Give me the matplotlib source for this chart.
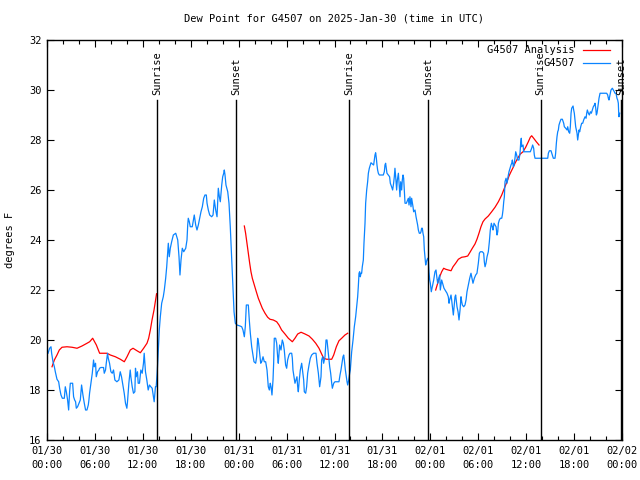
import numpy as np
import matplotlib
matplotlib.use("Agg")
import matplotlib.pyplot as plt
from matplotlib.ticker import MultipleLocator

# time axis: hours since 2025-01-30 00:00 UTC
obs_hours = [
    0.13, 0.33, 0.5, 0.58, 0.75, 0.92, 1.04, 1.25, 1.46, 1.58, 1.75, 1.92, 2.17, 2.29, 2.42,
    2.58, 2.71, 2.83, 2.92, 3.21, 3.33, 3.46, 3.58, 3.67, 3.83, 4.0, 4.17, 4.33, 4.5, 4.67,
    4.83, 5.0, 5.17, 5.25, 5.33, 5.5, 5.67, 5.83, 5.92, 6.08, 6.17, 6.33, 6.5, 6.58, 6.75,
    7.08, 7.17, 7.33, 7.42, 7.58, 7.67, 7.83, 8.0, 8.17, 8.33, 8.5, 8.75, 9.0, 9.17, 9.33,
    9.5, 9.67, 9.83, 10.0, 10.08, 10.25, 10.42, 10.5, 10.67, 10.83, 11.0, 11.08, 11.17, 11.33, 11.42,
    11.58, 11.75, 11.92, 12.08, 12.17, 12.33, 12.5, 12.67, 12.83, 13.0, 13.17, 13.33, 13.42, 13.58, 13.67,
    13.79, 13.88, 14.06, 14.19, 14.36, 14.56, 14.69, 14.86, 14.99, 15.11, 15.19, 15.31, 15.44, 15.61, 15.82,
    16.12, 16.37, 16.53, 16.65, 16.78, 16.94, 17.12, 17.37, 17.53, 17.62, 17.69, 17.82, 17.94, 18.19, 18.37,
    18.44, 18.62, 18.78, 18.95, 19.12, 19.28, 19.45, 19.62, 19.78, 19.95, 20.04, 20.2, 20.37, 20.62, 20.79,
    20.95, 21.12, 21.29, 21.45, 21.58, 21.7, 21.88, 22.0, 22.13, 22.2, 22.29, 22.41, 22.63, 22.79, 22.95,
    23.13, 23.29, 23.42, 23.58, 23.79, 24.17, 24.38, 24.54, 24.71, 24.83, 24.96, 25.21, 25.33, 25.46, 25.63,
    25.75, 25.92, 26.13, 26.25, 26.38, 26.5, 26.63, 26.76, 26.88, 27.05, 27.21, 27.38, 27.55, 27.71, 27.84,
    27.96, 28.05, 28.17, 28.3, 28.38, 28.46, 28.63, 28.76, 28.88, 28.96, 29.05, 29.13, 29.3, 29.46, 29.59,
    29.71, 29.88, 30.01, 30.13, 30.3, 30.43, 30.64, 30.72, 30.8, 30.93, 31.05, 31.18, 31.3, 31.39, 31.47,
    31.59, 31.72, 31.89, 32.01, 32.14, 32.22, 32.39, 32.51, 32.64, 32.81, 32.97, 33.14, 33.39, 33.68, 33.81,
    33.98, 34.14, 34.31, 34.39, 34.52, 34.64, 34.81, 34.94, 35.06, 35.15, 35.27, 35.4, 35.52, 35.65, 35.73,
    35.9, 36.06, 36.31, 36.56, 36.69, 36.81, 36.94, 37.06, 37.15, 37.23, 37.36, 37.48, 37.57, 37.65, 37.78,
    37.9, 37.98, 38.07, 38.15, 38.32, 38.48, 38.65, 38.78, 38.9, 38.98, 39.07, 39.15, 39.23, 39.32, 39.4,
    39.48, 39.61, 39.69, 39.82, 39.9, 40.03, 40.15, 40.24, 40.36, 40.49, 40.57, 40.74, 40.9, 40.99, 41.07,
    41.15, 41.24, 41.32, 41.4, 41.49, 41.61, 41.9, 42.11, 42.24, 42.32, 42.4, 42.49, 42.57, 42.74, 42.9,
    42.99, 43.15, 43.28, 43.4, 43.49, 43.57, 43.66, 43.78, 43.87, 44.0, 44.12, 44.2, 44.29, 44.41, 44.49,
    44.58, 44.66, 44.74, 44.83, 45.0, 45.16, 45.25, 45.33, 45.45, 45.58, 45.66, 45.83, 45.91, 46.08, 46.21,
    46.33, 46.41, 46.5, 46.62, 46.75, 46.83, 46.91, 47.0, 47.08, 47.17, 47.25, 47.33, 47.42, 47.5, 47.58,
    47.67, 47.75, 47.83, 47.92, 48.0, 48.12, 48.25, 48.42, 48.58, 48.71, 48.83, 48.92, 49.0, 49.17, 49.25,
    49.42, 49.59, 49.71, 49.84, 49.96, 50.09, 50.25, 50.34, 50.42, 50.59, 50.67, 50.76, 50.88, 51.01, 51.09,
    51.17, 51.26, 51.34, 51.47, 51.59, 51.72, 51.84, 51.93, 52.01, 52.18, 52.34, 52.47, 52.59, 52.76, 52.93,
    53.09, 53.18, 53.34, 53.51, 53.68, 53.84, 54.01, 54.14, 54.26, 54.51, 54.68, 54.76, 54.85, 54.97, 55.1,
    55.26, 55.39, 55.51, 55.64, 55.76, 55.85, 55.97, 56.1, 56.23, 56.35, 56.44, 56.52, 56.64, 56.77, 56.94,
    57.02, 57.1, 57.19, 57.27, 57.35, 57.48, 57.6, 57.73, 57.85, 57.98, 58.1, 58.19, 58.27, 58.4, 58.48,
    58.6, 58.69, 58.81, 58.94, 59.1, 59.23, 59.31, 59.39, 59.44, 59.61, 59.69, 59.85, 60.27, 60.52, 60.69,
    60.81, 60.94, 61.02, 61.11, 61.52, 61.94, 62.36, 62.7, 62.78, 62.91, 63.11, 63.28, 63.4, 63.61, 63.69,
    63.78, 63.86, 63.95, 64.03, 64.11, 64.24, 64.36, 64.53, 64.7, 64.78, 64.95, 65.12, 65.2, 65.32, 65.45,
    65.53, 65.62, 65.7, 65.87, 65.95, 66.03, 66.12, 66.2, 66.28, 66.37, 66.45, 66.53, 66.62, 66.7, 66.83,
    66.95, 67.08, 67.2, 67.29, 67.37, 67.5, 67.58, 67.66, 67.79, 67.91, 68.04, 68.16, 68.29, 68.41, 68.54,
    68.62, 68.71, 68.79, 68.87, 68.96, 69.04, 69.12, 69.25, 70.08, 70.21, 70.29, 70.37, 70.54, 70.62, 70.79,
    70.92, 71.04, 71.12, 71.25, 71.37, 71.46, 71.54, 71.58, 71.62, 71.71,
]
obs_dewpt = [
    19.47, 19.67, 19.73, 19.47, 19.13, 18.93, 18.73, 18.43, 18.33, 18.07, 17.8, 17.67, 17.67, 18.13, 17.93,
    17.6, 17.2, 17.93, 18.27, 18.27, 17.73, 17.6, 17.53, 17.27, 17.33, 17.47, 17.6, 18.2, 17.8, 17.47,
    17.2, 17.2, 17.4, 17.6, 17.87, 18.27, 18.67, 19.2, 18.93, 19.07, 18.53, 18.73, 18.8, 18.87, 18.9,
    18.9, 18.67, 18.8, 19.07, 19.47, 19.27, 19.07, 18.73, 18.67, 18.8, 18.4, 18.33, 18.4, 18.73, 18.53,
    18.2, 17.87, 17.47, 17.27, 17.53, 18.27, 18.8, 18.53, 18.13, 17.87, 17.93, 18.87, 18.53, 18.73, 18.27,
    18.27, 18.8, 18.67, 19.07, 19.47, 18.73, 18.4, 18.0, 18.2, 18.13, 18.07, 17.73, 17.53, 18.13, 18.13,
    18.67, 19.2, 20.4, 20.93, 21.47, 21.73, 22.0, 22.47, 22.93, 23.53, 23.87, 23.33, 23.67, 23.93, 24.2,
    24.27, 24.0, 23.33, 22.6, 23.2, 23.67, 23.53, 23.67, 24.0, 24.6, 24.87, 24.73, 24.53, 24.53, 24.87,
    25.0, 24.6, 24.4, 24.6, 24.87, 25.13, 25.33, 25.67, 25.8, 25.8, 25.47, 25.2, 25.0, 24.93, 25.0,
    25.6, 25.2, 24.93, 26.07, 25.73, 25.53, 26.2, 26.53, 26.67, 26.8, 26.6, 26.2, 25.93, 25.47, 24.53,
    23.2, 22.0, 21.13, 20.67, 20.6, 20.56, 20.53, 20.4, 20.13, 20.53, 21.4, 21.4, 20.8, 20.27, 19.73,
    19.47, 19.13, 19.07, 19.33, 20.07, 19.87, 19.47, 19.07, 19.13, 19.33, 19.13, 19.13, 18.8, 18.13, 18.0,
    18.27, 18.13, 17.8, 18.4, 19.07, 20.07, 20.07, 19.87, 19.33, 19.07, 19.47, 19.8, 19.6, 20.0, 19.87,
    19.6, 19.0, 18.87, 19.2, 19.4, 19.47, 19.47, 19.27, 18.8, 18.53, 18.27, 18.4, 18.53, 18.13, 17.93,
    18.4, 18.8, 19.07, 18.73, 18.4, 17.93, 17.87, 18.13, 18.67, 19.0, 19.27, 19.4, 19.47, 19.47, 19.07,
    18.67, 18.13, 18.53, 19.2, 19.33, 19.07, 19.33, 20.0, 20.0, 19.73, 19.33, 18.93, 18.67, 18.27, 18.07,
    18.27, 18.33, 18.33, 18.33, 18.6, 18.8, 19.07, 19.33, 19.4, 19.2, 18.8, 18.53, 18.33, 18.2, 18.4,
    18.67, 18.8, 19.2, 19.53, 20.0, 20.53, 20.93, 21.33, 21.73, 22.13, 22.67, 22.73, 22.53, 22.67, 22.67,
    22.93, 23.2, 23.87, 24.67, 25.47, 26.0, 26.33, 26.67, 26.87, 27.0, 27.09, 27.04, 27.0, 27.2, 27.4,
    27.49, 27.27, 27.0, 26.8, 26.67, 26.6, 26.6, 26.6, 26.73, 27.0, 27.07, 26.87, 26.67, 26.6, 26.53,
    26.27, 26.13, 26.0, 26.27, 26.53, 26.87, 26.53, 26.0, 26.4, 26.67, 26.13, 25.73, 26.33, 26.0, 26.4,
    26.6, 26.47, 26.0, 25.47, 25.47, 25.6, 25.67, 25.4, 25.73, 25.33, 25.67, 25.33, 25.13, 25.2, 24.93,
    24.73, 24.6, 24.4, 24.27, 24.27, 24.33, 24.47, 24.47, 24.27, 24.13, 23.6, 23.33, 23.0, 23.13, 23.2,
    23.27, 23.2, 22.73, 22.4, 22.27, 21.93, 22.13, 22.4, 22.73, 22.8, 22.47, 22.27, 22.4, 22.6, 22.0,
    22.4, 22.2, 22.07, 22.0, 21.93, 21.87, 21.73, 21.47, 21.6, 21.8, 21.6, 21.33, 21.0, 21.47, 21.73,
    21.8, 21.53, 21.33, 21.13, 20.8, 21.2, 21.73, 21.53, 21.4, 21.33, 21.4, 21.6, 21.93, 22.2, 22.47,
    22.67, 22.53, 22.27, 22.47, 22.6, 22.67, 23.07, 23.47, 23.53, 23.53, 23.47, 23.13, 22.93, 23.07, 23.33,
    23.53, 23.93, 24.4, 24.67, 24.53, 24.4, 24.67, 24.6, 24.53, 24.2, 24.33, 24.67, 24.8, 24.87, 24.87,
    25.0, 25.2, 25.53, 25.73, 26.33, 26.47, 26.27, 26.53, 26.73, 26.87, 27.0, 27.07, 27.2, 26.93, 27.0,
    27.27, 27.53, 27.4, 27.2, 27.2, 27.47, 27.87, 28.07, 27.73, 27.8, 27.53, 27.53, 27.53, 27.53, 27.67,
    27.8, 27.67, 27.4, 27.27, 27.27, 27.27, 27.27, 27.27, 27.47, 27.57, 27.57, 27.4, 27.27, 27.27, 27.47,
    27.87, 28.13, 28.33, 28.4, 28.6, 28.73, 28.83, 28.83, 28.67, 28.53, 28.47, 28.4, 28.53, 28.33, 28.27,
    28.53, 29.07, 29.27, 29.36, 29.2, 29.07, 28.8, 28.53, 28.4, 28.27, 28.0, 28.2, 28.4, 28.33, 28.53,
    28.67, 28.67, 28.8, 28.87, 28.93, 28.87, 29.07, 29.2, 29.07, 29.0, 29.13, 29.07, 29.2, 29.33, 29.4,
    29.47, 29.27, 29.0, 29.07, 29.27, 29.47, 29.67, 29.87, 29.87, 29.8, 29.67, 29.6, 29.87, 30.0, 30.07,
    30.0, 29.93, 29.87, 29.87, 29.67, 29.6, 29.47, 29.13, 28.93, 29.07,
]

# analysis, three runs (NaN marks a gap)
ana_hours = [
    0.63, 0.92, 1.25, 1.54, 1.88, 2.5, 3.13, 3.76, 4.38, 5.01, 5.34, 5.72, 6.18, 6.59, 7.51,
    7.93, 8.56, 9.18, 9.68, 10.02, 10.43, 10.77, 11.27, 11.69, 12.1, 12.52, 12.73, 12.94, 13.15, 13.4,
    13.72, 19.0,
    24.71, 24.87, 25.04, 25.21, 25.38, 25.54, 25.71, 25.96, 26.21, 26.46, 26.71, 26.96, 27.3, 27.63, 27.92,
    28.34, 28.76, 29.05, 29.38, 29.8, 30.22, 30.72, 31.05, 31.39, 31.81, 32.31, 32.81, 33.23, 33.65, 34.06,
    34.39, 34.64, 35.02, 35.65, 35.9, 36.23, 36.56, 36.9, 37.31, 37.65, 43.0,
    48.67, 48.92, 49.17, 49.42, 49.67, 49.92, 50.25, 50.59, 50.84, 51.17, 51.51, 51.93, 52.34, 52.68, 52.93,
    53.26, 53.59, 53.84, 54.09, 54.34, 54.59, 54.85, 55.26, 55.68, 56.1, 56.52, 56.94, 57.27, 57.6, 57.85,
    58.1, 58.35, 58.6, 58.94, 59.27, 59.61, 59.94, 60.27, 60.52, 60.69, 60.94, 61.27, 61.61,
]
ana_dewpt = [
    18.93, 19.2, 19.4, 19.6, 19.71, 19.73, 19.71, 19.67, 19.76, 19.87, 19.93, 20.07, 19.8, 19.47, 19.47,
    19.4, 19.33, 19.23, 19.13, 19.33, 19.6, 19.67, 19.57, 19.49, 19.67, 19.87, 20.07, 20.4, 20.8, 21.2,
    21.85, np.nan,
    24.56, 24.27, 23.87, 23.47, 23.07, 22.73, 22.47, 22.2, 21.93, 21.67, 21.47, 21.27, 21.07, 20.91, 20.83,
    20.8, 20.73, 20.6, 20.4, 20.24, 20.07, 19.93, 20.07, 20.24, 20.31, 20.24, 20.16, 20.03, 19.87, 19.67,
    19.44, 19.27, 19.23, 19.23, 19.4, 19.73, 19.97, 20.07, 20.2, 20.27, np.nan,
    22.0, 22.27, 22.53, 22.73, 22.87, 22.83, 22.8, 22.77, 22.93, 23.07, 23.23, 23.31, 23.33, 23.36, 23.49,
    23.67, 23.84, 24.03, 24.27, 24.53, 24.73, 24.84, 24.96, 25.13, 25.31, 25.53, 25.8, 26.07, 26.33, 26.56,
    26.73, 26.89, 27.07, 27.27, 27.44, 27.53, 27.71, 27.93, 28.11, 28.17, 28.07, 27.93, 27.8,
]

sunrise_hours = [13.82, 37.84, 61.80]
sunset_hours = [23.71, 47.75, 71.85]

x_ticks = list(range(0, 73, 6))
x_labels = ["01/30\n00:00", "01/30\n06:00", "01/30\n12:00", "01/30\n18:00",
            "01/31\n00:00", "01/31\n06:00", "01/31\n12:00", "01/31\n18:00",
            "02/01\n00:00", "02/01\n06:00", "02/01\n12:00", "02/01\n18:00",
            "02/02\n00:00"]

RED = "#ff0000"
BLUE = "#0a84ff"
mono = "DejaVu Sans Mono"
plt.rcParams["font.family"] = mono
plt.rcParams["font.size"] = 7.5

fig = plt.figure(figsize=(6.4, 4.8), dpi=100)
ax = fig.add_axes([47 / 640, 40 / 480, 575 / 640, 400 / 480])

ax.plot(ana_hours, ana_dewpt, color=RED, lw=0.9)
ax.plot(obs_hours, obs_dewpt, color=BLUE, lw=0.9)

# sunrise / sunset markers
line_top = 29.6
for h in sunrise_hours:
    ax.plot([h, h], [16, line_top], color="black", lw=1.0)
    ax.text(h, line_top + 0.2, "Sunrise", rotation=90, ha="center", va="bottom")
for h in sunset_hours:
    ax.plot([h, h], [16, line_top], color="black", lw=1.0)
    ax.text(h, line_top + 0.2, "Sunset", rotation=90, ha="center", va="bottom")

ax.set_xlim(0, 72)
ax.set_ylim(16, 32)
ax.set_xticks(x_ticks)
ax.set_xticklabels(x_labels, linespacing=1.6)
ax.xaxis.set_minor_locator(MultipleLocator(2))
ax.set_yticks(range(16, 33, 2))
ax.tick_params(which="both", direction="in", top=True, right=True, width=0.8)
ax.tick_params(which="major", length=5, pad=4)
ax.tick_params(which="minor", length=3)
for sp in ax.spines.values():
    sp.set_linewidth(1.0)

ax.set_title("Dew Point for G4507 on 2025-Jan-30 (time in UTC)", pad=13, fontsize=7.5)
fig.text(10 / 640, 0.5, "degrees F", rotation=90, ha="center", va="center")

# key in the top right, text right-justified before the sample line
key = [("G4507 Analysis", RED, 0.975), ("G4507", BLUE, 0.9425)]
for label, col, yk in key:
    ax.text(0.918, yk, label, transform=ax.transAxes, ha="right", va="center")
    ax.plot([0.932, 0.979], [yk, yk], color=col, lw=0.9, transform=ax.transAxes)

fig.savefig("out.png", dpi=100)
